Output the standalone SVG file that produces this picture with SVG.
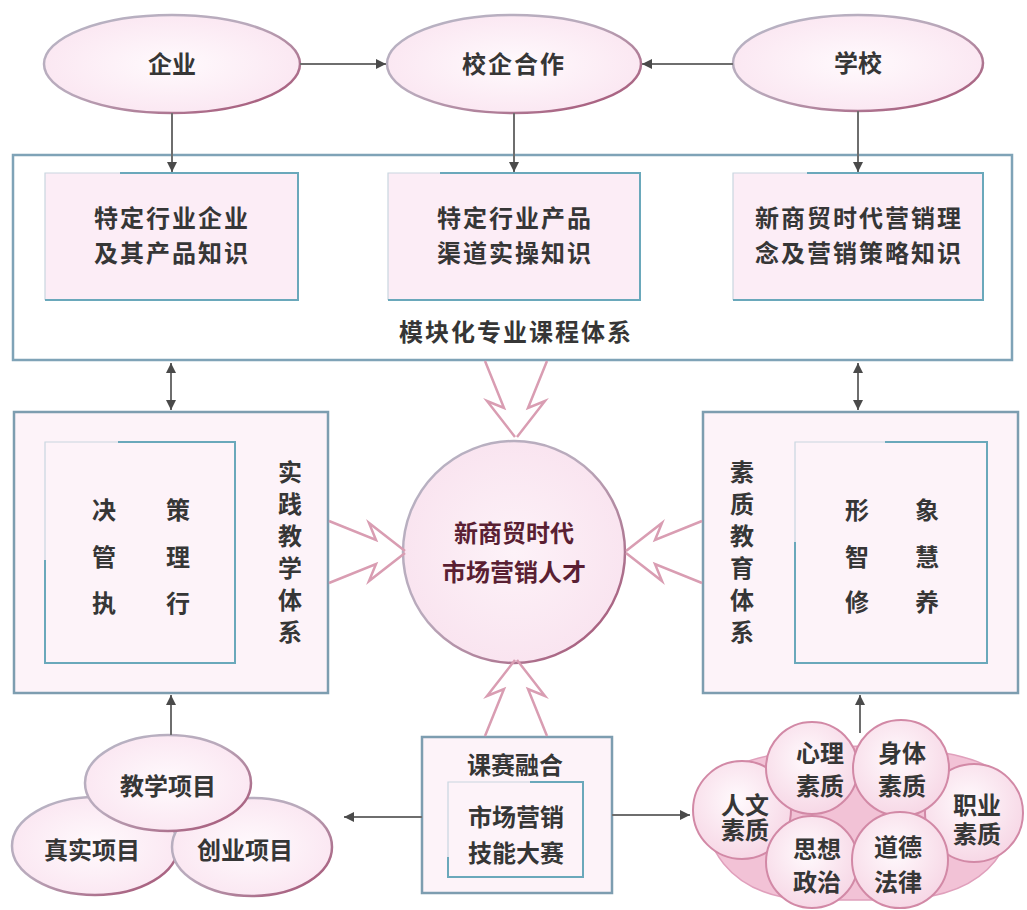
<svg xmlns="http://www.w3.org/2000/svg" width="1027" height="910" viewBox="0 0 1027 910">
<style>
text{font-family:"Liberation Sans","Noto Sans CJK SC",sans-serif;font-size:24px;font-weight:bold;fill:#363636;text-anchor:middle;dominant-baseline:central}
.sp{letter-spacing:2px}
.conn{stroke:#6e6e6e;stroke-width:2;fill:none}
.ell{fill:url(#ellFill);stroke:url(#ellStroke);stroke-width:2.5}
.box{fill:#fdf3f9;stroke:#7d9db0;stroke-width:2.5}
.ibox{fill:#fcedf6;stroke:none}
.iline{fill:none;stroke:#6aa8bb;stroke-width:2}
.faint{fill:none;stroke:#c9d6e0;stroke-width:1.2}
.bolt{fill:none;stroke:#d99db2;stroke-width:2.5;stroke-linejoin:miter}
.cir{fill:url(#cirFill);stroke:#d289a6;stroke-width:2}
</style>
<defs>
<radialGradient id="ellFill" cx="50%" cy="50%" r="60%">
<stop offset="0" stop-color="#fffafd"/>
<stop offset="1" stop-color="#fae4f0"/>
</radialGradient>
<linearGradient id="ellStroke" x1="0" y1="0" x2="1" y2="1">
<stop offset="0" stop-color="#b7b4c4"/>
<stop offset="0.45" stop-color="#b9a9bb"/>
<stop offset="1" stop-color="#a44b6e"/>
</linearGradient>
<radialGradient id="cirFill" cx="45%" cy="40%" r="65%">
<stop offset="0" stop-color="#fffafd"/>
<stop offset="1" stop-color="#f6d5e4"/>
</radialGradient>
<radialGradient id="bigFill" cx="50%" cy="50%" r="55%">
<stop offset="0" stop-color="#fdf2f8"/>
<stop offset="1" stop-color="#f9e3ef"/>
</radialGradient>
<marker id="ah" viewBox="0 0 10 10" refX="10" refY="5" markerWidth="5" markerHeight="5" orient="auto-start-reverse">
<path d="M0,0 L10,5 L0,10 z" fill="#4a4a4a"/>
</marker>
<path id="boltShape" d="M0,-31 L47,-12 L40,-29 L76,-1 M0,31 L47,12 L40,29 L76,1"/>
</defs>
<rect width="1027" height="910" fill="#ffffff"/>

<g id="enterprise">
<ellipse class="ell" cx="172" cy="64" rx="128" ry="49"/>
<text x="172" y="64">企业</text>
</g>
<g id="cooperation">
<ellipse class="ell" cx="514" cy="64" rx="127" ry="49"/>
<text x="514" y="64" class="sp">校企合作</text>
</g>
<g id="school">
<ellipse class="ell" cx="858" cy="63" rx="125" ry="48"/>
<text x="858" y="63">学校</text>
</g>

<g id="course-system">
<rect x="13" y="155" width="999" height="205" fill="#ffffff" stroke="#7fa3b7" stroke-width="2.5"/>
<text x="516" y="332" class="sp">模块化专业课程体系</text>
</g>
<g id="knowledge-1">
<rect class="ibox" x="45" y="173" width="253" height="127"/>
<path class="faint" d="M45,300 V173 H120"/>
<path class="iline" d="M120,173 H298 V300 H45"/>
<text x="172" y="218" class="sp">特定行业企业</text>
<text x="172" y="253" class="sp">及其产品知识</text>
</g>
<g id="knowledge-2">
<rect class="ibox" x="388" y="173" width="252" height="127"/>
<path class="faint" d="M388,300 V173 H440"/>
<path class="iline" d="M440,173 H640 V300 H388"/>
<text x="515" y="218" class="sp">特定行业产品</text>
<text x="515" y="253" class="sp">渠道实操知识</text>
</g>
<g id="knowledge-3">
<rect class="ibox" x="733" y="173" width="250" height="127"/>
<path class="faint" d="M733,300 V173 H807"/>
<path class="iline" d="M807,173 H983 V300 H733"/>
<text x="859" y="218" class="sp">新商贸时代营销理</text>
<text x="859" y="253" class="sp">念及营销策略知识</text>
</g>

<g id="practice-system">
<rect class="box" x="14" y="412" width="314" height="281"/>
<path class="faint" d="M45,560 V442 H118"/>
<path class="iline" d="M118,442 H235 V663 H45 V560"/>
<text x="104" y="510">决</text>
<text x="178" y="510">策</text>
<text x="104" y="557">管</text>
<text x="178" y="557">理</text>
<text x="104" y="603">执</text>
<text x="178" y="603">行</text>
<text x="290" y="472">实</text>
<text x="290" y="504">践</text>
<text x="290" y="536">教</text>
<text x="290" y="568">学</text>
<text x="290" y="600">体</text>
<text x="290" y="632">系</text>
</g>

<g id="quality-system">
<rect class="box" x="703" y="412" width="315" height="281"/>
<path class="faint" d="M795,542 V442 H885"/>
<path class="iline" d="M885,442 H987 V663 H795 V542"/>
<text x="742" y="472">素</text>
<text x="742" y="504">质</text>
<text x="742" y="536">教</text>
<text x="742" y="568">育</text>
<text x="742" y="600">体</text>
<text x="742" y="632">系</text>
<text x="857" y="510">形</text>
<text x="927" y="510">象</text>
<text x="857" y="557">智</text>
<text x="927" y="557">慧</text>
<text x="857" y="602">修</text>
<text x="927" y="602">养</text>
</g>

<g id="talent">
<circle cx="514" cy="552" r="111" fill="url(#bigFill)" stroke="url(#ellStroke)" stroke-width="2.5"/>
<text x="514" y="533" style="fill:#5a1f33">新商贸时代</text>
<text x="514" y="572" style="fill:#5a1f33">市场营销人才</text>
</g>

<g id="competition">
<rect class="box" x="422" y="737" width="190" height="156"/>
<path class="faint" d="M448,857 V782 H530"/>
<path class="iline" d="M530,782 H583 V877 H448 V857"/>
<text x="515" y="765">课赛融合</text>
<text x="516" y="817">市场营销</text>
<text x="516" y="853">技能大赛</text>
</g>

<g id="projects">
<ellipse class="ell" cx="95" cy="846" rx="83" ry="49"/>
<ellipse class="ell" cx="252" cy="847" rx="80" ry="49"/>
<ellipse class="ell" cx="168" cy="783" rx="83" ry="48"/>
<text x="168" y="786">教学项目</text>
<text x="92" y="850">真实项目</text>
<text x="245" y="850">创业项目</text>
</g>

<g id="qualities">
<path d="M706,790 C725,735 985,730 1008,785 C1022,840 995,895 900,900 L805,900 C728,895 698,845 706,790 z" fill="#f2c2d6" stroke="#e0a0bc" stroke-width="1.5"/>
<circle class="cir" cx="742" cy="810" r="49"/>
<circle class="cir" cx="974" cy="813" r="49"/>
<circle class="cir" cx="812" cy="768" r="46"/>
<circle class="cir" cx="901" cy="768" r="48"/>
<circle class="cir" cx="812" cy="862" r="46"/>
<circle class="cir" cx="900" cy="860" r="48"/>
<text x="820" y="753">心理</text>
<text x="820" y="786">素质</text>
<text x="902" y="753">身体</text>
<text x="902" y="786">素质</text>
<text x="745" y="805">人文</text>
<text x="745" y="830">素质</text>
<text x="977" y="805">职业</text>
<text x="977" y="834">素质</text>
<text x="817" y="849">思想</text>
<text x="817" y="882">政治</text>
<text x="898" y="847">道德</text>
<text x="898" y="882">法律</text>
</g>

<g id="connectors">
<line class="conn" x1="300" y1="64" x2="386" y2="64" marker-end="url(#ah)"/>
<line class="conn" x1="733" y1="64" x2="642" y2="64" marker-end="url(#ah)"/>
<line class="conn" x1="172" y1="113" x2="172" y2="172" marker-end="url(#ah)"/>
<line class="conn" x1="514" y1="113" x2="514" y2="172" marker-end="url(#ah)"/>
<line class="conn" x1="858" y1="111" x2="858" y2="172" marker-end="url(#ah)"/>
<line class="conn" x1="171" y1="363" x2="171" y2="410" marker-start="url(#ah)" marker-end="url(#ah)"/>
<line class="conn" x1="858" y1="363" x2="858" y2="410" marker-start="url(#ah)" marker-end="url(#ah)"/>
<line class="conn" x1="171" y1="735" x2="171" y2="695" marker-end="url(#ah)"/>
<line class="conn" x1="860" y1="733" x2="860" y2="695" marker-end="url(#ah)"/>
<line class="conn" x1="422" y1="817" x2="344" y2="817" marker-end="url(#ah)"/>
<line class="conn" x1="612" y1="815" x2="690" y2="815" marker-end="url(#ah)"/>
<use href="#boltShape" class="bolt" transform="translate(516,361) rotate(90)"/>
<use href="#boltShape" class="bolt" transform="translate(329,552)"/>
<use href="#boltShape" class="bolt" transform="translate(702,552) rotate(180)"/>
<use href="#boltShape" class="bolt" transform="translate(516,736) rotate(-90)"/>
</g>
</svg>
